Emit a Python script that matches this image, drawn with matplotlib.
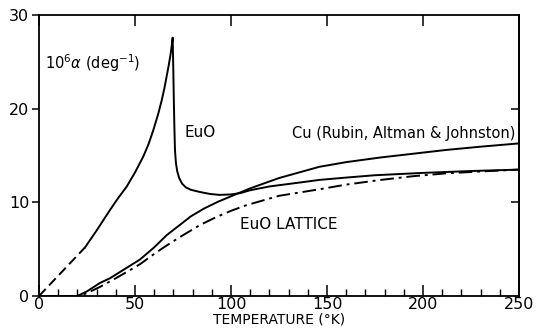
import numpy as np
import matplotlib
matplotlib.use("Agg")
import matplotlib.pyplot as plt
from matplotlib.ticker import MultipleLocator

# EuO thermal expansion, dashed low-T extrapolation
euo_dash_t = [0, 24]
euo_dash_a = [0, 5.2]
# EuO measured (solid), with the sharp peak at Tc
euo_t = [24, 30, 37, 41, 45.7, 50, 54.3, 57, 59.5, 62, 63.9, 65.3, 66.5, 67.6, 68.5,
         69.1, 69.6, 69.9, 70.2, 70.5, 70.8, 71.3, 72.0, 73.0, 74.5, 76.5, 79, 84,
         89, 94, 100, 105, 110, 120, 135, 146, 160, 175, 200, 225, 250]
euo_a = [5.2, 7.0, 9.2, 10.4, 11.7, 13.2, 14.9, 16.2, 17.7, 19.4, 20.9, 22.2, 23.5,
         24.7, 25.8, 26.7, 27.6, 24.5, 21.0, 18.0, 15.6, 14.2, 13.3, 12.6, 12.0, 11.6,
         11.35, 11.1, 10.9, 10.8, 10.85, 11.0, 11.3, 11.7, 12.1, 12.4, 12.65, 12.9,
         13.15, 13.35, 13.5]
# Cu (Rubin, Altman & Johnston)
cu_t = [0, 20, 25, 31.8, 37, 44, 52.6, 60, 66.5, 73.4, 79, 86, 93, 100, 110, 125, 146,
        160, 178, 195, 212, 230, 250]
cu_a = [0, 0, 0.5, 1.4, 1.9, 2.8, 3.9, 5.2, 6.5, 7.6, 8.5, 9.35, 10.05, 10.65, 11.5,
        12.6, 13.8, 14.3, 14.8, 15.2, 15.6, 15.95, 16.3]
# EuO lattice contribution (dash-dot)
lat_t = [0, 20, 25, 32, 40, 46, 52.6, 60, 66.5, 73.4, 84, 92, 100, 108, 125, 146,
         160, 178, 195, 212, 230, 250]
lat_a = [0, 0, 0.3, 1.0, 1.9, 2.6, 3.4, 4.5, 5.4, 6.3, 7.6, 8.4, 9.1, 9.7, 10.7, 11.4,
         11.9, 12.4, 12.8, 13.1, 13.3, 13.5]

plt.rcParams['font.family'] = 'DejaVu Sans'
fig = plt.figure(figsize=(5.39, 3.29), dpi=100)
ax = fig.add_axes([0.0724, 0.1003, 0.8906, 0.8537])

lw = 1.4
ax.plot(euo_dash_t, euo_dash_a, color='black', lw=lw, ls=(0, (5, 2.5)))
ax.plot(euo_t, euo_a, color='black', lw=lw)
ax.plot(cu_t, cu_a, color='black', lw=lw)
ax.plot(lat_t, lat_a, color='black', lw=lw, ls=(0, (7, 2.5, 1.5, 2.5)))

ax.set_xlim(0, 250)
ax.set_ylim(0, 30)
for s in ax.spines.values():
    s.set_linewidth(1.3)

ax.xaxis.set_major_locator(MultipleLocator(50))
ax.xaxis.set_minor_locator(MultipleLocator(10))
ax.yaxis.set_major_locator(MultipleLocator(10))
ax.tick_params(axis='x', which='major', direction='in', length=8, width=1.1,
               top=True, labelsize=11.5, pad=1)
ax.tick_params(axis='x', which='minor', direction='in', length=5, width=1.0,
               top=False)
ax.tick_params(axis='y', which='major', direction='out', length=5, width=1.1,
               labelsize=11.5, pad=2)
sec = ax.secondary_yaxis('right')
sec.set_yticks([10, 20])
sec.tick_params(direction='in', length=6, width=1.1, labelright=False)
sec.spines['right'].set_linewidth(1.3)

ax.set_xlabel('TEMPERATURE (°K)', fontsize=10, labelpad=0)

ax.text(3.1, 24.9, r'10$^{6}\alpha$ (deg$^{-1}$)', fontsize=10.5, va='center', ha='left')
ax.text(76, 17.5, 'EuO', fontsize=11, va='center', ha='left')
ax.text(131.6, 17.4, 'Cu (Rubin, Altman & Johnston)', fontsize=10.5, va='center', ha='left')
ax.text(104.7, 7.6, 'EuO LATTICE', fontsize=11, va='center', ha='left')

fig.savefig('out.png', dpi=100)
